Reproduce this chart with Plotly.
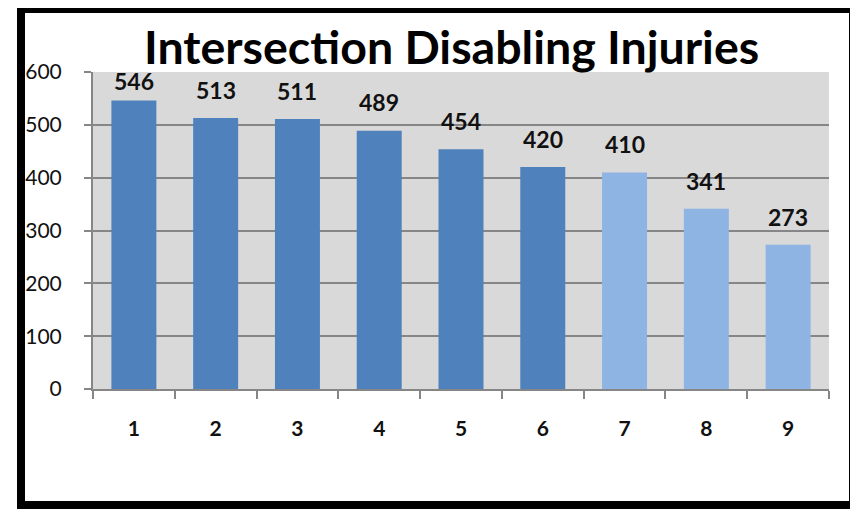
import plotly.graph_objects as go

categories = ["1", "2", "3", "4", "5", "6", "7", "8", "9"]
injuries = [546, 513, 511, 489, 454, 420, 410, 341, 273]
y_ticks = [0, 100, 200, 300, 400, 500, 600]

DARK = "#4F81BD"
LIGHT = "#8DB4E2"
bar_colors = [DARK] * 6 + [LIGHT] * 3

# page body has an 8px default margin; lay out in reference pixels minus that
OFF = 8
W, H = 858 - OFF, 509 - OFF
L, R, T, B = 93 - OFF, 29, 72 - OFF, 120
pw, ph = W - L - R, H - T - B

def px_x(p):
    return (p - OFF - L) / pw

def px_y(p):
    return (H - B - (p - OFF)) / ph

LABEL_CAP = 555  # Excel keeps labels inside the plot area
label_y = [min(v + 25, LABEL_CAP) for v in injuries]

fig = go.Figure(
    go.Bar(
        x=categories,
        y=injuries,
        marker=dict(color=bar_colors, line=dict(width=0)),
        width=0.55,
        hoverinfo="x+y",
    )
)

annotations = [
    dict(
        x=i, y=ly, xref="x", yref="y", text=f"<b>{v}</b>",
        showarrow=False, xanchor="center", yanchor="bottom",
        font=dict(family="Lato", size=23, color="#111111"),
        borderpad=0,
    )
    for i, (v, ly) in enumerate(zip(injuries, label_y))
]
annotations.append(
    dict(
        text="<b>Intersection Disabling Injuries</b>",
        xref="paper", yref="paper",
        x=px_x(451), y=px_y(46),
        xanchor="center", yanchor="middle",
        showarrow=False,
        font=dict(family="Lato", size=46.5, color="black"),
    )
)

fig.update_layout(
    width=W,
    height=H,
    margin=dict(l=L, r=R, t=T, b=B),
    paper_bgcolor="white",
    plot_bgcolor="#D9D9D9",
    showlegend=False,
    font=dict(family="Lato", color="#111111"),
    shapes=[
        dict(
            type="rect", xref="paper", yref="paper",
            x0=px_x(21), x1=px_x(853), y0=px_y(9), y1=px_y(505),
            line=dict(color="black", width=8), fillcolor="rgba(0,0,0,0)",
            layer="below",
        )
    ],
    annotations=annotations,
)

fig.update_xaxes(
    type="category",
    categoryorder="array", categoryarray=categories,
    range=[-0.5, len(categories) - 0.5],
    showgrid=False,
    showline=True, linecolor="#868686", linewidth=2,
    ticks="outside", tickson="boundaries", ticklen=8, tickwidth=2, tickcolor="#868686",
    tickfont=dict(family="Lato", size=21, color="#111111", weight="bold"),
    ticklabelstandoff=20,
)
fig.update_yaxes(
    range=[0, 600],
    tickvals=y_ticks,
    showgrid=True, gridcolor="#868686", gridwidth=2,
    showline=True, linecolor="#868686", linewidth=2,
    ticks="outside", ticklen=7, tickwidth=2, tickcolor="#868686",
    tickfont=dict(family="Lato", size=21, color="#111111"),
    ticklabelstandoff=18,
    zeroline=False,
)

fig.write_html("out.html")
